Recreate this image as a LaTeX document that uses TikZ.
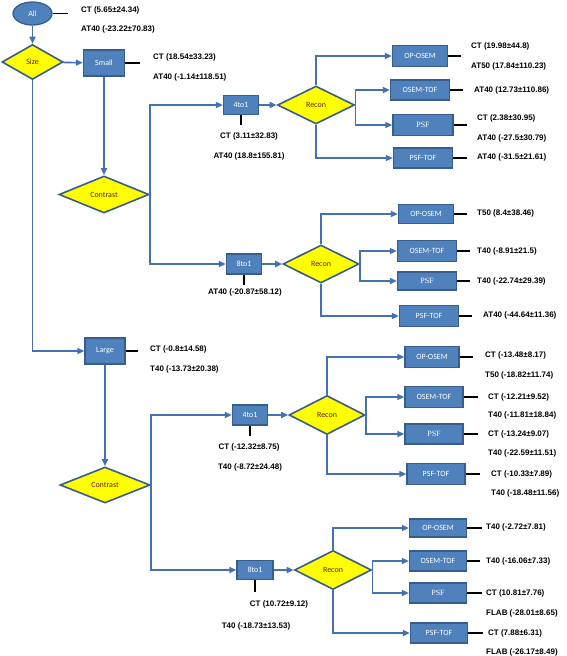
\documentclass[tikz,border=0pt]{standalone}
\usepackage{fontspec}
\setmainfont{Liberation Sans}
\newfontfamily\boxfont{Carlito}
\newfontfamily\psffont{Liberation Serif}
\usetikzlibrary{shapes.geometric,arrows.meta}
\definecolor{boxblue}{RGB}{79,129,189}
\definecolor{boxedge}{RGB}{56,93,138}
\definecolor{flowline}{RGB}{68,114,176}
\definecolor{decyellow}{RGB}{255,255,0}
\definecolor{dectext}{RGB}{112,30,20}
\begin{document}
\begin{tikzpicture}[x=1pt,y=-1pt,
    proc/.style={rectangle,fill=boxblue,draw=boxedge,line width=1.3pt,text=white,
      font=\boxfont\fontsize{8}{9}\selectfont,inner sep=0pt,minimum width=#1,minimum height=20pt},
    proc/.default=58pt,
    dec/.style={diamond,fill=decyellow,draw=boxedge,line width=1.6pt,text=dectext,
      font=\boxfont\fontsize{8}{9}\selectfont,inner sep=0pt,minimum width=77pt,minimum height=38pt},
    flow/.style={draw=flowline,line width=1.6pt,-{Triangle[length=7pt,width=6pt]}},
    tick/.style={line width=1.3pt,black},
    stat/.style={anchor=west,inner sep=0pt,font=\bfseries\fontsize{8}{9}\selectfont}]
      \useasboundingbox (0,0) rectangle (567,656);

      % draw the root and the size split
      \node[ellipse,fill=boxblue,draw=boxedge,line width=1.3pt,text=white,font=\boxfont\fontsize{8}{9}\selectfont,
        inner sep=0pt,minimum width=39pt,minimum height=23pt] (all) at (32.5,13.5) {All};
      \node[dec,minimum width=61pt,minimum height=35pt] (size) at (32.5,62) {Size};
      \node[proc=41pt,minimum height=26pt] (small) at (104,63) {Small};
      \node[proc=40pt,minimum height=26pt] (large) at (105,351) {Large};
      \draw[flow] (all) -- (size);
      \draw[flow] (size) -- (small);
      \draw[flow] (size.south) |- (large.west);

      \draw[tick] (all.east) -- ++(15,0);
      \node[stat] (allct) at (81,10) {CT (5.65±24.34)};
      \node[stat] (allat) at (81,29) {AT40 (-23.22±70.83)};
      \draw[tick] (small.east) -- ++(15,0);
      \node[stat] (smallct) at (153,57) {CT (18.54±33.23)};
      \node[stat] (smallat) at (153,77) {AT40 (-1.14±118.51)};
      \draw[tick] (large.east) -- ++(12,0);
      \node[stat] (largect) at (150,349) {CT (-0.8±14.58)};
      \node[stat] (largeat) at (150,369) {T40 (-13.73±20.38)};

      % draw the contrast split for the small lesions
      \node[dec,minimum width=90pt,minimum height=37pt] (con1) at (104,194.5) {Contrast};
      \node[proc=35pt,minimum height=19pt] (fa) at (241,105) {4to1};
      \node[proc=35pt] (ea) at (244,264) {8to1};
      \draw[flow] (small) -- (con1);
      \draw[flow] (con1.east) |- (fa.west);
      \draw[flow] (con1.east) |- (ea.west);
      \draw[tick] (fa.south) -- ++(0,10);
      \node[stat,anchor=center] (fact) at (249,136) {CT (3.11±32.83)};
      \node[stat,anchor=center] (faat) at (249,156) {AT40 (18.8±155.81)};
      \draw[tick] (ea.south) -- ++(0,10);
      \node[stat,anchor=center] (eaat) at (245,292) {AT40 (-20.87±58.12)};

      % draw the reconstructions for small 4to1
      \node[dec] (ra) at (316,105) {Recon};
      \node[proc=55pt,minimum height=21pt] (opa) at (420,56) {OP-OSEM};
      \node[proc=59pt] (ota) at (420,90) {OSEM-TOF};
      \node[proc=60pt,minimum height=21pt] (psa) at (423,125) {\psffont PSF};
      \node[proc=59pt] (pta) at (423,158) {PSF-TOF};
      \draw[flow] (fa) -- (ra);
      \draw[flow] (ra.north) |- (opa.west);
      \draw[flow] (ra.east) |- (ota.west);
      \draw[flow] (ra.east) |- (psa.west);
      \draw[flow] (ra.south) |- (pta.west);
      \draw[tick] (opa.east) -- ++(13,0);
      \node[stat] (opact) at (471,46) {CT (19.98±44.8)};
      \node[stat] (opaat) at (471,66) {AT50 (17.84±110.23)};
      \draw[tick] (ota.east) -- ++(13,0);
      \node[stat] (otaat) at (474,90) {AT40 (12.73±110.86)};
      \draw[tick] (psa.east) -- ++(13,0);
      \node[stat] (psact) at (477,118) {CT (2.38±30.95)};
      \node[stat] (psaat) at (477,138) {AT40 (-27.5±30.79)};
      \draw[tick] (pta.east) -- ++(14,0);
      \node[stat] (ptaat) at (477,157) {AT40 (-31.5±21.61)};

      % draw the reconstructions for small 8to1
      \node[dec,minimum width=76pt] (rb) at (321,264) {Recon};
      \node[proc=55pt,minimum height=19pt] (opb) at (426,214) {OP-OSEM};
      \node[proc=59pt,minimum height=21pt] (otb) at (427,251) {OSEM-TOF};
      \node[proc=59pt,minimum height=18pt] (psb) at (427,281) {\psffont PSF};
      \node[proc=59pt,minimum height=21pt] (ptb) at (429,316) {PSF-TOF};
      \draw[flow] (ea) -- (rb);
      \draw[flow] (rb.north) |- (opb.west);
      \draw[flow] (rb.east) |- (otb.west);
      \draw[flow] (rb.east) |- (psb.west);
      \draw[flow] (rb.south) |- (ptb.west);
      \draw[tick] (opb.east) -- ++(13,0);
      \node[stat] (opbat) at (477,213) {T50 (8.4±38.46)};
      \draw[tick] (otb.east) -- ++(13,0);
      \node[stat] (otbat) at (477,251) {T40 (-8.91±21.5)};
      \draw[tick] (psb.east) -- ++(13,0);
      \node[stat] (psbat) at (477,281) {T40 (-22.74±29.39)};
      \draw[tick] (ptb.east) -- ++(13,0);
      \node[stat] (ptbat) at (483,315) {AT40 (-44.64±11.36)};

      % draw the contrast split for the large lesions
      \node[dec,minimum width=90pt,minimum height=36pt] (con2) at (105,485) {Contrast};
      \node[proc=35pt] (fc) at (250,415) {4to1};
      \node[proc=36pt,minimum height=19pt] (ec) at (255,570) {8to1};
      \draw[flow] (large) -- (con2);
      \draw[flow] (con2.east) |- (fc.west);
      \draw[flow] (con2.east) |- (ec.west);
      \draw[tick] (fc.south) -- ++(0,10);
      \node[stat,anchor=center] (fcct) at (249,447) {CT (-12.32±8.75)};
      \node[stat,anchor=center] (fcat) at (250,467) {T40 (-8.72±24.48)};
      \draw[tick] (ec.south) -- ++(0,12);
      \node[stat,anchor=center] (ecct) at (279,604) {CT (10.72±9.12)};
      \node[stat,anchor=center] (ecat) at (256,626) {T40 (-18.73±13.53)};

      % draw the reconstructions for large 4to1
      \node[dec,minimum width=76pt,minimum height=39pt] (rc) at (327,415) {Recon};
      \node[proc=54pt,minimum height=21pt] (opc) at (432,357) {OP-OSEM};
      \node[proc=58pt,minimum height=21pt] (otc) at (434,397) {OSEM-TOF};
      \node[proc=58pt] (psc) at (434,434) {\psffont PSF};
      \node[proc=58pt,minimum height=21pt] (ptc) at (436,474) {PSF-TOF};
      \draw[flow] (fc) -- (rc);
      \draw[flow] (rc.north) |- (opc.west);
      \draw[flow] (rc.east) |- (otc.west);
      \draw[flow] (rc.east) |- (psc.west);
      \draw[flow] (rc.south) |- (ptc.west);
      \draw[tick] (opc.east) -- ++(13,0);
      \node[stat] (opcct) at (485,355) {CT (-13.48±8.17)};
      \node[stat] (opcat) at (485,375) {T50 (-18.82±11.74)};
      \draw[tick] (otc.east) -- ++(14,0);
      \node[stat] (otcct) at (488,397) {CT (-12.21±9.52)};
      \node[stat] (otcat) at (488,415) {T40 (-11.81±18.84)};
      \draw[tick] (psc.east) -- ++(14,0);
      \node[stat] (pscct) at (488,434) {CT (-13.24±9.07)};
      \node[stat] (pscat) at (488,453) {T40 (-22.59±11.51)};
      \draw[tick] (ptc.east) -- ++(14,0);
      \node[stat] (ptcct) at (491,474) {CT (-10.33±7.89)};
      \node[stat] (ptcat) at (491,493) {T40 (-18.48±11.56)};

      % draw the reconstructions for large 8to1
      \node[dec,minimum height=39pt] (rd) at (333,570) {Recon};
      \node[proc=57pt,minimum height=18pt] (opd) at (438,528) {OP-OSEM};
      \node[proc=57pt] (otd) at (438,561) {OSEM-TOF};
      \node[proc=57pt] (psd) at (438,593) {\psffont PSF};
      \node[proc=57pt] (ptd) at (439,633) {PSF-TOF};
      \draw[flow] (ec) -- (rd);
      \draw[flow] (rd.north) |- (opd.west);
      \draw[flow] (rd.east) |- (otd.west);
      \draw[flow] (rd.east) |- (psd.west);
      \draw[flow] (rd.south) |- (ptd.west);
      \draw[tick] (opd.east) -- ++(15,0);
      \node[stat] (opdat) at (486,527) {T40 (-2.72±7.81)};
      \draw[tick] (otd.east) -- ++(13,0);
      \node[stat] (otdat) at (486,561) {T40 (-16.06±7.33)};
      \draw[tick] (psd.east) -- ++(15,0);
      \node[stat] (psdct) at (486,593) {CT (10.81±7.76)};
      \node[stat] (psdat) at (486,613) {FLAB (-28.01±8.65)};
      \draw[tick] (ptd.east) -- ++(15,0);
      \node[stat] (ptdct) at (488,633) {CT (7.88±6.31)};
      \node[stat] (ptdat) at (486,652) {FLAB (-26.17±8.49)};
    \end{tikzpicture}
\end{document}
